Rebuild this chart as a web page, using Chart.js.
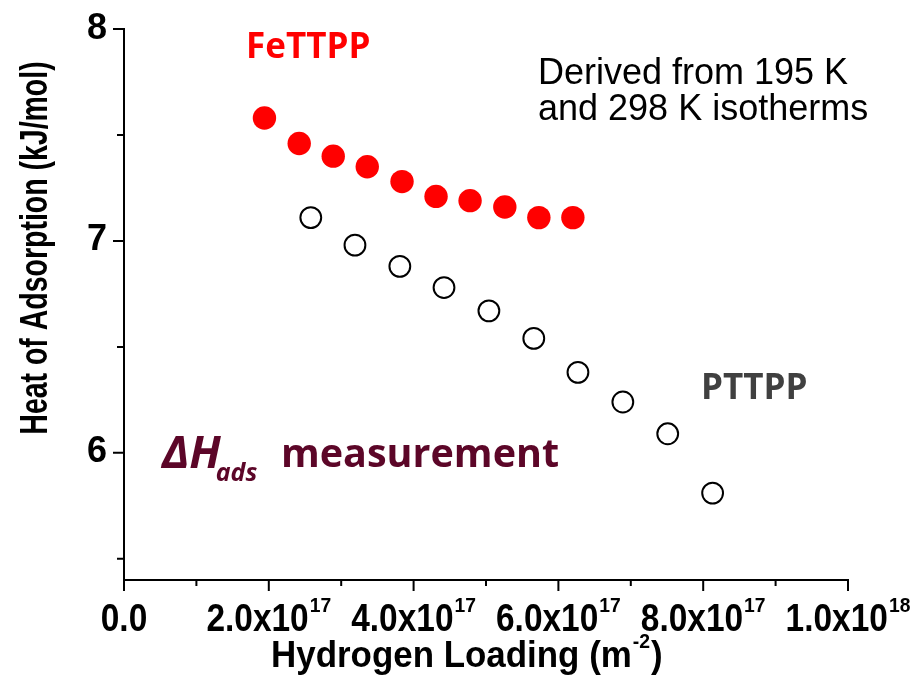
<!DOCTYPE html>
<html>
<head>
<meta charset="utf-8">
<script src="https://cdn.jsdelivr.net/npm/chart.js@4.4.1/dist/chart.umd.min.js"></script>
<style>
    html, body { margin: 0; padding: 0; background: #fff; }
    #wrap { width: 916px; height: 677px; }
</style>
</head>
<body>
<div id="wrap"><canvas id="chart" width="916" height="677"></canvas></div>
<script>
// Heat of adsorption vs hydrogen loading
const feX = [1.94e17, 2.42e17, 2.89e17, 3.36e17, 3.84e17, 4.31e17, 4.78e17, 5.26e17, 5.73e17, 6.20e17];
const feY = [7.58, 7.46, 7.40, 7.35, 7.28, 7.21, 7.19, 7.16, 7.11, 7.11];
const ptX = [2.58e17, 3.19e17, 3.81e17, 4.42e17, 5.04e17, 5.66e17, 6.27e17, 6.89e17, 7.51e17, 8.13e17];
const ptY = [7.11, 6.98, 6.88, 6.78, 6.67, 6.54, 6.38, 6.24, 6.09, 5.81];

const xMajor = [0, 2e17, 4e17, 6e17, 8e17, 1e18];
const xMinor = [1e17, 3e17, 5e17, 7e17, 9e17];
const xLabels = [['0.0', ''], ['2.0x10', '17'], ['4.0x10', '17'], ['6.0x10', '17'], ['8.0x10', '17'], ['1.0x10', '18']];
const yMajor = [6, 7, 8];
const yMinor = [5.5, 6.5, 7.5];
const yLabels = ['6', '7', '8'];

function toPoints(xs, ys) {
    return xs.map((x, i) => ({ x: x, y: ys[i] }));
}

function squeezeText(ctx, text, x, y, sx) {
    ctx.save();
    ctx.translate(x, y);
    ctx.scale(sx, 1);
    ctx.fillText(text, 0, 0);
    ctx.restore();
}

const axisDecor = {
    id: 'axisDecor',
    afterDraw(chart) {
        const ctx = chart.ctx;
        const xs = chart.scales.x;
        const ys = chart.scales.y;
        const area = chart.chartArea;
        ctx.save();
        ctx.strokeStyle = '#000';
        ctx.fillStyle = '#000';
        ctx.lineWidth = 2;

        // tick marks
        ctx.beginPath();
        yMajor.forEach(v => { const p = ys.getPixelForValue(v); ctx.moveTo(area.left - 11, p); ctx.lineTo(area.left, p); });
        yMinor.forEach(v => { const p = ys.getPixelForValue(v); ctx.moveTo(area.left - 7, p); ctx.lineTo(area.left, p); });
        xMajor.forEach(v => { const p = xs.getPixelForValue(v); ctx.moveTo(p, area.bottom); ctx.lineTo(p, area.bottom + 11); });
        xMinor.forEach(v => { const p = xs.getPixelForValue(v); ctx.moveTo(p, area.bottom); ctx.lineTo(p, area.bottom + 6); });
        ctx.stroke();

        // y tick labels
        ctx.font = 'bold 36px "Liberation Sans"';
        ctx.textAlign = 'right';
        ctx.textBaseline = 'alphabetic';
        yMajor.forEach((v, i) => {
            ctx.fillText(yLabels[i], area.left - 17, ys.getPixelForValue(v) + 9.5);
        });

        // x tick labels with superscript exponents
        const sx = 0.88;
        ctx.textAlign = 'left';
        xMajor.forEach((v, i) => {
            const [base, sup] = xLabels[i];
            ctx.font = 'bold 38px "Liberation Sans"';
            const w1 = ctx.measureText(base).width * sx;
            ctx.font = 'bold 21px "Liberation Sans"';
            const w2 = sup ? ctx.measureText(sup).width * 0.92 + 1 : 0;
            const start = xs.getPixelForValue(v) - (w1 + w2) / 2;
            ctx.font = 'bold 38px "Liberation Sans"';
            squeezeText(ctx, base, start, area.bottom + 51, sx);
            if (sup) {
                ctx.font = 'bold 21px "Liberation Sans"';
                squeezeText(ctx, sup, start + w1 + 1, area.bottom + 32, 0.92);
            }
        });

        // x axis title
        const tx = 0.97;
        ctx.font = 'bold 36px "Liberation Sans"';
        const t1 = 'Hydrogen Loading (m';
        const tw1 = ctx.measureText(t1).width * tx;
        const tstart = 271;
        squeezeText(ctx, t1, tstart, 667, tx);
        ctx.font = 'bold 20px "Liberation Sans"';
        const tw2 = ctx.measureText('-2').width * tx;
        squeezeText(ctx, '-2', tstart + tw1 + 1, 648, tx);
        ctx.font = 'bold 36px "Liberation Sans"';
        squeezeText(ctx, ')', tstart + tw1 + tw2 + 2, 667, tx);

        // y axis title
        ctx.save();
        ctx.translate(46.5, 248);
        ctx.rotate(-Math.PI / 2);
        ctx.scale(0.73, 1);
        ctx.textAlign = 'center';
        ctx.font = 'bold 39px "Liberation Sans"';
        ctx.fillText('Heat of Adsorption (kJ/mol)', 0, 0);
        ctx.restore();

        // annotations
        ctx.textAlign = 'left';
        ctx.fillStyle = '#ff0000';
        ctx.font = 'bold 35px "Open Sans"';
        ctx.fillText('FeTTPP', 246, 57.5);

        ctx.fillStyle = '#404040';
        ctx.fillText('PTTPP', 701, 399);

        ctx.fillStyle = '#000';
        ctx.font = '36px "Liberation Sans"';
        ctx.fillText('Derived from 195 K', 538, 83.5);
        ctx.fillText('and 298 K isotherms', 538, 120);

        ctx.fillStyle = '#5c0628';
        ctx.font = 'italic bold 45px "Open Sans"';
        ctx.fillText('\u0394H', 162, 468);
        const dw = ctx.measureText('\u0394H').width;
        ctx.font = 'italic bold 25px "Open Sans"';
        ctx.fillText('ads', 162 + dw - 5, 481);
        ctx.font = 'bold 39.5px "Open Sans"';
        ctx.fillText('measurement', 281, 467);

        ctx.restore();
    }
};

const ctx = document.getElementById('chart').getContext('2d');
new Chart(ctx, {
    type: 'scatter',
    data: {
        datasets: [
            {
                label: 'FeTTPP',
                data: toPoints(feX, feY),
                backgroundColor: '#ff0000',
                borderColor: '#ff0000',
                borderWidth: 0,
                pointRadius: 11.7,
                pointHoverRadius: 11.7
            },
            {
                label: 'PTTPP',
                data: toPoints(ptX, ptY),
                backgroundColor: 'rgba(0,0,0,0)',
                borderColor: '#000',
                borderWidth: 2,
                pointRadius: 10.4,
                pointHoverRadius: 10.4
            }
        ]
    },
    options: {
        responsive: false,
        animation: false,
        clip: false,
        layout: { padding: { left: 124, right: 68, top: 29, bottom: 97 } },
        plugins: {
            legend: { display: false },
            tooltip: { enabled: false }
        },
        scales: {
            x: {
                type: 'linear',
                min: 0,
                max: 1e18,
                ticks: { display: false },
                grid: { display: false, drawTicks: false },
                border: { display: true, color: '#000', width: 2 }
            },
            y: {
                type: 'linear',
                min: 5.4,
                max: 8,
                ticks: { display: false },
                grid: { display: false, drawTicks: false },
                border: { display: true, color: '#000', width: 2 }
            }
        }
    },
    plugins: [axisDecor]
});
</script>
</body>
</html>
